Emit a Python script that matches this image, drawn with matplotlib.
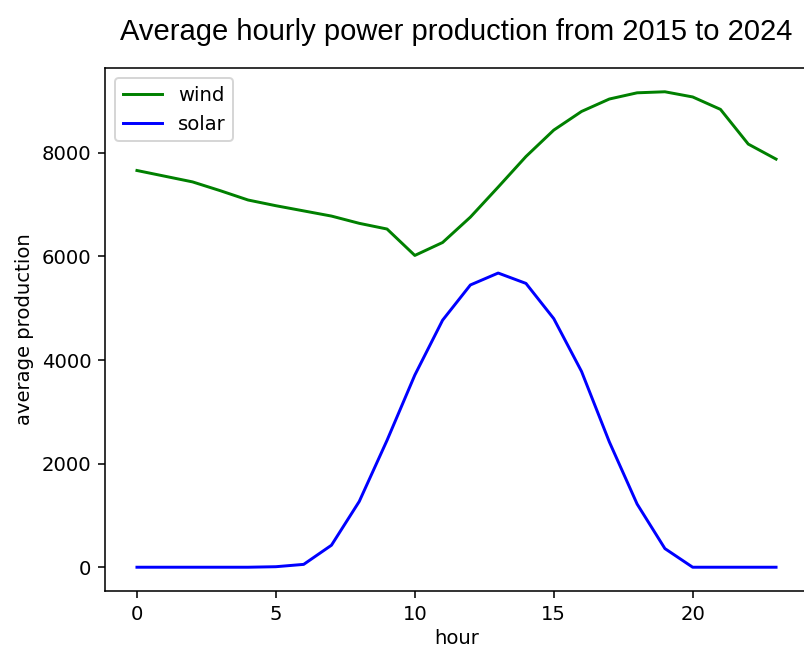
import matplotlib.pyplot as plt

# Durchschnittliche Stundenwerte 2015-2024
hours = list(range(24))
wind = [7660, 7550, 7440, 7270, 7090, 6980, 6880, 6780, 6640, 6530,
        6020, 6270, 6760, 7340, 7930, 8440, 8800, 9040, 9160, 9180,
        9080, 8840, 8170, 7880]
solar = [0, 0, 0, 0, 0, 10, 55, 425, 1270, 2450,
         3710, 4770, 5450, 5680, 5480, 4800, 3780, 2420, 1220, 360,
         0, 0, 0, 0]

DPI = 141.5
fig = plt.figure(figsize=(805 / DPI, 648 / DPI), dpi=DPI)
ax = fig.add_axes([105 / 805, 57 / 648, 703 / 805, 523 / 648])

ax.plot(hours, wind, color='green', label='wind')
ax.plot(hours, solar, color='blue', label='solar')

ax.set_xlabel('hour', labelpad=2.5)
ax.set_ylabel('average production')
ax.set_title('Average hourly power production from 2015 to 2024',
             fontname='Liberation Sans', fontsize=14.85, pad=14)
ax.legend(loc='upper left')

fig.savefig('out.png', dpi=DPI)
